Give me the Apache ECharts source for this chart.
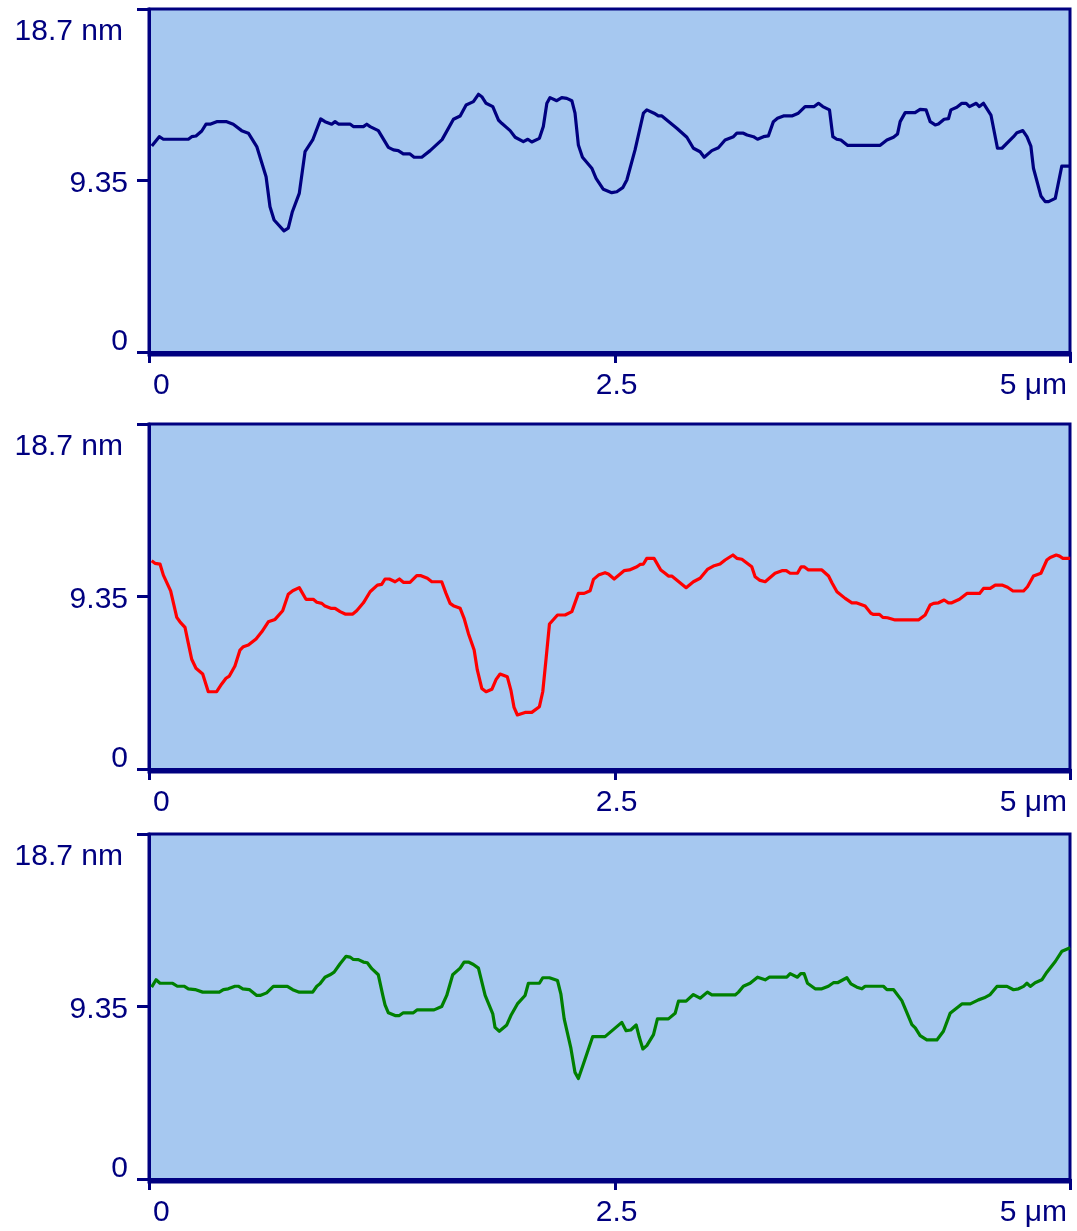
<!DOCTYPE html>
<html>
<head>
<meta charset="utf-8">
<script src="https://cdn.jsdelivr.net/npm/echarts@6/dist/echarts.min.js"></script>
<style>
html,body{margin:0;padding:0;background:#fff;}
#chart{width:1077px;height:1231px;}
</style>
</head>
<body>
<div id="chart"></div>
<script>
// ---- Data (x in µm, height in nm) ----
const xTickValues = [0, 2.5, 4.94];
const xTickLabels = ['0', '2.5', '5 μm'];
const yTickValues = [0, 9.35, 18.7];
const yTickLabels = ['0', '9.35', '18.7 nm'];

const xTop = [0.015,0.055,0.077,0.211,0.229,0.252,0.283,0.306,0.331,0.363,0.417,0.452,0.497,0.533,0.578,0.628,0.649,0.671,0.724,0.747,0.769,0.806,0.837,0.878,0.921,0.944,0.980,0.998,1.016,1.078,1.096,1.150,1.168,1.186,1.230,1.284,1.311,1.337,1.364,1.400,1.422,1.463,1.508,1.572,1.633,1.669,1.701,1.740,1.767,1.785,1.808,1.844,1.874,1.892,1.937,1.964,2.008,2.032,2.053,2.094,2.115,2.134,2.151,2.187,2.214,2.241,2.268,2.285,2.303,2.325,2.375,2.398,2.437,2.482,2.509,2.541,2.563,2.607,2.652,2.670,2.709,2.732,2.751,2.831,2.885,2.920,2.956,2.978,3.019,3.054,3.090,3.135,3.153,3.188,3.208,3.242,3.264,3.296,3.322,3.349,3.371,3.403,3.448,3.483,3.519,3.568,3.591,3.614,3.650,3.668,3.689,3.711,3.746,3.922,3.958,3.993,4.015,4.029,4.056,4.109,4.136,4.168,4.190,4.217,4.234,4.265,4.288,4.301,4.333,4.360,4.383,4.401,4.437,4.454,4.476,4.516,4.551,4.575,4.637,4.655,4.687,4.709,4.730,4.744,4.784,4.807,4.825,4.861,4.896,4.941];
const yTop = [11.23,11.74,11.60,11.60,11.74,11.78,12.05,12.42,12.43,12.56,12.56,12.42,12.07,11.93,11.20,9.56,7.92,7.20,6.61,6.75,7.65,8.65,10.92,11.56,12.71,12.56,12.42,12.56,12.43,12.43,12.29,12.29,12.42,12.29,12.07,11.16,11.02,10.98,10.80,10.80,10.62,10.62,10.98,11.58,12.69,12.87,13.47,13.65,14.05,13.92,13.56,13.38,12.65,12.47,12.07,11.71,11.47,11.60,11.45,11.65,12.29,13.56,13.87,13.70,13.87,13.83,13.70,13.02,11.29,10.62,10.02,9.47,8.87,8.69,8.74,8.96,9.38,11.02,13.02,13.20,13.02,12.87,12.87,12.20,11.71,11.11,10.92,10.62,10.98,11.14,11.56,11.74,11.93,11.93,11.83,11.74,11.60,11.74,11.78,12.56,12.74,12.87,12.87,13.02,13.38,13.38,13.56,13.38,13.20,11.74,11.60,11.56,11.27,11.27,11.56,11.71,11.89,12.56,13.05,13.05,13.23,13.20,12.56,12.38,12.43,12.69,12.72,13.20,13.34,13.56,13.56,13.38,13.56,13.38,13.56,12.92,11.11,11.11,11.74,11.96,12.07,11.74,11.23,10.02,8.51,8.20,8.20,8.38,10.14,10.14];

const xMid = [0.014,0.032,0.059,0.077,0.116,0.149,0.166,0.193,0.211,0.229,0.252,0.288,0.318,0.363,0.390,0.413,0.431,0.461,0.488,0.506,0.533,0.574,0.605,0.640,0.676,0.717,0.747,0.771,0.806,0.842,0.881,0.900,0.927,0.944,0.975,0.998,1.025,1.052,1.093,1.114,1.150,1.186,1.225,1.248,1.266,1.289,1.320,1.343,1.364,1.400,1.436,1.459,1.493,1.517,1.570,1.593,1.615,1.636,1.669,1.690,1.713,1.744,1.761,1.785,1.808,1.839,1.862,1.883,1.922,1.941,1.958,1.976,2.017,2.053,2.094,2.112,2.130,2.148,2.191,2.232,2.268,2.303,2.334,2.366,2.384,2.411,2.446,2.464,2.495,2.548,2.577,2.617,2.634,2.652,2.670,2.709,2.745,2.768,2.786,2.804,2.881,2.920,2.956,2.995,3.027,3.063,3.090,3.132,3.153,3.180,3.233,3.251,3.274,3.305,3.358,3.395,3.418,3.439,3.478,3.498,3.514,3.537,3.609,3.645,3.663,3.690,3.734,3.770,3.793,3.841,3.872,3.886,3.918,3.936,3.961,4.002,4.127,4.163,4.190,4.208,4.235,4.265,4.288,4.306,4.347,4.387,4.455,4.476,4.512,4.539,4.575,4.605,4.634,4.691,4.712,4.744,4.784,4.816,4.834,4.866,4.884,4.902,4.941];
const yMid = [11.29,11.15,11.11,10.51,9.66,8.22,7.98,7.68,6.81,5.95,5.46,5.15,4.19,4.19,4.61,4.92,5.04,5.58,6.45,6.63,6.72,7.05,7.44,7.98,8.11,8.58,9.47,9.66,9.83,9.20,9.20,9.04,8.98,8.83,8.71,8.71,8.53,8.40,8.40,8.58,9.01,9.61,9.97,10.01,10.30,10.30,10.15,10.30,10.12,10.12,10.48,10.48,10.34,10.15,10.15,9.52,8.98,8.83,8.71,8.17,7.35,6.45,5.37,4.37,4.19,4.32,4.86,5.15,5.00,4.28,3.34,2.93,3.07,3.07,3.38,4.19,6.00,7.86,8.35,8.35,8.53,9.52,9.52,9.66,10.28,10.51,10.64,10.57,10.30,10.75,10.79,10.96,11.09,11.11,11.42,11.42,10.79,10.61,10.46,10.46,9.83,10.15,10.34,10.82,11.00,11.11,11.33,11.60,11.42,11.37,10.96,10.42,10.24,10.15,10.61,10.75,10.75,10.61,10.61,10.96,10.96,10.79,10.79,10.46,10.10,9.61,9.25,9.01,9.01,8.83,8.44,8.38,8.38,8.22,8.20,8.08,8.08,8.35,8.89,8.98,9.01,9.16,9.01,9.01,9.20,9.52,9.52,9.79,9.79,9.97,9.97,9.85,9.65,9.65,9.88,10.46,10.61,11.33,11.47,11.60,11.54,11.42,11.42];

const xBot = [0.014,0.038,0.059,0.127,0.152,0.188,0.211,0.247,0.288,0.377,0.399,0.425,0.461,0.479,0.503,0.538,0.578,0.596,0.631,0.667,0.742,0.771,0.806,0.878,0.900,0.917,0.944,0.971,0.993,1.025,1.057,1.078,1.096,1.123,1.150,1.171,1.195,1.230,1.254,1.266,1.284,1.320,1.343,1.364,1.418,1.439,1.529,1.570,1.597,1.629,1.669,1.690,1.713,1.740,1.767,1.803,1.844,1.856,1.879,1.919,1.941,1.976,2.017,2.035,2.094,2.112,2.148,2.191,2.209,2.227,2.262,2.285,2.303,2.330,2.380,2.446,2.536,2.559,2.584,2.613,2.630,2.649,2.670,2.706,2.727,2.786,2.822,2.840,2.881,2.920,2.956,2.995,3.019,3.144,3.162,3.188,3.224,3.264,3.305,3.328,3.421,3.439,3.478,3.496,3.514,3.532,3.573,3.609,3.644,3.671,3.693,3.743,3.765,3.797,3.824,3.841,3.939,3.958,3.993,4.038,4.092,4.110,4.136,4.172,4.226,4.261,4.297,4.360,4.405,4.449,4.480,4.512,4.548,4.602,4.637,4.664,4.691,4.709,4.727,4.753,4.789,4.816,4.861,4.897,4.941];
const yBot = [10.40,10.80,10.61,10.61,10.45,10.45,10.31,10.27,10.13,10.13,10.27,10.31,10.45,10.45,10.31,10.27,9.95,9.95,10.09,10.44,10.44,10.26,10.13,10.13,10.45,10.58,10.94,11.07,11.21,11.67,12.07,12.03,11.90,11.89,11.76,11.72,11.40,11.07,9.95,9.44,9.01,8.86,8.86,9.01,9.01,9.17,9.17,9.35,9.95,11.07,11.43,11.76,11.76,11.63,11.43,9.95,8.95,8.22,8.01,8.35,8.86,9.49,9.95,10.61,10.61,10.91,10.91,10.76,10.04,8.68,7.14,5.78,5.45,6.23,7.72,7.72,8.49,8.04,8.08,8.35,7.68,7.05,7.23,7.83,8.68,8.68,8.98,9.64,9.64,10.00,9.80,10.13,9.98,9.98,10.13,10.45,10.61,10.94,10.80,10.94,10.94,11.13,10.94,11.13,11.13,10.61,10.31,10.31,10.45,10.64,10.64,10.91,10.58,10.40,10.31,10.45,10.45,10.27,10.27,9.67,8.37,8.19,7.77,7.54,7.54,8.01,8.98,9.49,9.49,9.71,9.82,10.00,10.44,10.44,10.26,10.31,10.44,10.61,10.44,10.64,10.80,11.21,11.79,12.35,12.54];

const profiles = [
  {x: xTop, y: yTop, color: '#000080'},
  {x: xMid, y: yMid, color: '#FF0000'},
  {x: xBot, y: yBot, color: '#008000'}
];

// ---- Style ----
const NAVY = '#000080';
const BG = '#A6C8F0';
const FONT = "'Liberation Sans', Arial, sans-serif";
const FS = 30;
const gridBoxes = [
  {top: 9, height: 346},
  {top: 424, height: 348},
  {top: 834, height: 348}
];
const txt = {fontSize: FS, fontFamily: FONT, color: NAVY};

function tickIndex(arr, v) {
  for (let i = 0; i < arr.length; i++) if (Math.abs(arr[i] - v) < 1e-6) return i;
  return -1;
}

const grid = [], xAxis = [], yAxis = [], series = [];
profiles.forEach((p, k) => {
  grid.push({
    left: 149, width: 921, top: gridBoxes[k].top, height: gridBoxes[k].height,
    show: true, backgroundColor: BG, borderColor: NAVY, borderWidth: 3
  });
  xAxis.push({
    type: 'value', gridIndex: k, min: 0, max: xTickValues[2],
    axisLine: {show: true, lineStyle: {color: NAVY, width: 3}},
    axisTick: {show: true, length: 11, lineStyle: {color: NAVY, width: 3}, customValues: xTickValues},
    axisLabel: {
      customValues: xTickValues, margin: 16, fontSize: FS, fontFamily: FONT, color: NAVY,
      alignMinLabel: 'left', alignMaxLabel: 'right',
      formatter: v => {
        const i = tickIndex(xTickValues, v);
        return '{' + ['l', 'c', 'r'][i] + '|' + xTickLabels[i] + '}';
      },
      rich: {
        l: Object.assign({padding: [0, 0, 0, 4]}, txt),
        c: Object.assign({padding: [0, 0, 0, 3]}, txt),
        r: Object.assign({padding: [0, 3, 0, 0]}, txt)
      }
    },
    splitLine: {show: false}
  });
  yAxis.push({
    type: 'value', gridIndex: k, min: -0.16, max: 18.7,
    axisLine: {show: true, lineStyle: {color: NAVY, width: 3}},
    axisTick: {show: true, length: 12, lineStyle: {color: NAVY, width: 3}, customValues: yTickValues},
    axisLabel: {
      customValues: yTickValues, margin: 21, fontSize: FS, fontFamily: FONT, color: NAVY,
      formatter: v => {
        const i = tickIndex(yTickValues, v);
        return '{' + ['b', 'm', 't'][i] + '|' + yTickLabels[i] + '}';
      },
      rich: {
        t: Object.assign({padding: [46, 5, 0, 0]}, txt),
        m: Object.assign({padding: [6, 0, 0, 0]}, txt),
        b: Object.assign({padding: [0, 0, 20, 0]}, txt)
      }
    },
    splitLine: {show: false}
  });
  series.push({
    type: 'line', xAxisIndex: k, yAxisIndex: k,
    data: p.x.map((xv, i) => [xv, p.y[i]]),
    showSymbol: false, symbol: 'none',
    lineStyle: {color: p.color, width: 3.2, join: 'round'},
    itemStyle: {color: p.color}
  });
});

const chart = echarts.init(document.getElementById('chart'), null, {renderer: 'canvas'});
chart.setOption({
  animation: false,
  backgroundColor: '#ffffff',
  grid, xAxis, yAxis, series
});
</script>
</body>
</html>
